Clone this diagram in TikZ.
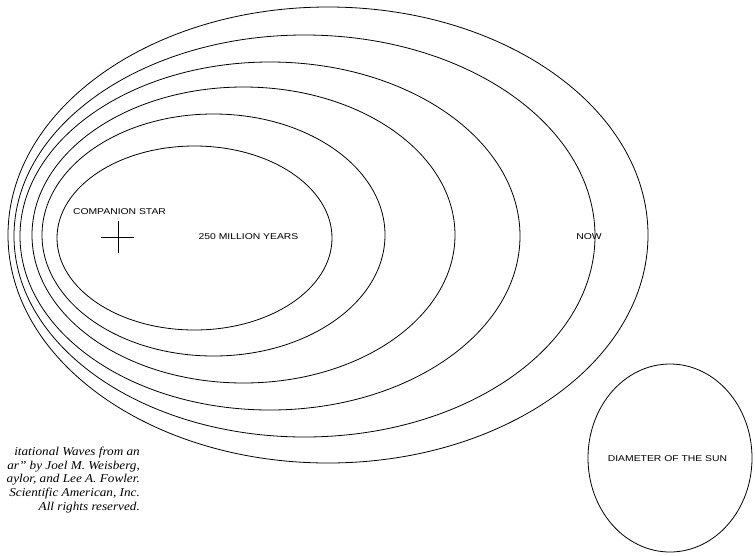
\documentclass[tikz,border=0pt]{standalone}
\usepackage{graphicx}
\usepackage{fontspec}
\setmainfont{Liberation Serif}
\newfontfamily\labelfont{Liberation Sans}
\newcommand{\widetext}[2]{\scalebox{#1}[1]{#2}}
\begin{document}
\begin{tikzpicture}[x=1pt,y=-1pt,
  orbit/.style={draw=black,line width=0.8pt},
  caplabel/.style={font=\labelfont\fontsize{8.5}{10}\selectfont,inner sep=0pt,text=black},
  credit/.style={font=\itshape\fontsize{12}{14}\selectfont,inner sep=0pt,anchor=east}]
\useasboundingbox (0,0) rectangle (755,555);
\begin{scope}
\clip (0,0) rectangle (755,555);
% orbits (successive ellipses)
\draw[orbit] (194.5,238) ellipse [x radius=137.5, y radius=92];
\draw[orbit] (213.5,235) ellipse [x radius=171.5, y radius=121];
\draw[orbit] (243.5,235) ellipse [x radius=211.5, y radius=148];
\draw[orbit] (270,236) ellipse [x radius=250, y radius=174];
\draw[orbit] (304.5,236) ellipse [x radius=290.5, y radius=201];
\draw[orbit] (328,235) ellipse [x radius=320, y radius=228];
% sun
\draw[orbit] (670,458) ellipse [x radius=82, y radius=94];
% companion star cross
\coordinate (star) at (118,237);
\draw[line width=0.8pt] (101,237) -- (134,237);
\draw[line width=0.8pt] (118,221) -- (118,253);
% labels
\node[caplabel] (comp) at (119.5,212) {\widetext{1.22}{COMPANION STAR}};
\node[caplabel] (years) at (248.5,237) {\widetext{1.22}{250 MILLION YEARS}};
\node[caplabel] (now) at (589,237) {\widetext{1.22}{NOW}};
\node[caplabel] (sun) at (667.5,459) {\widetext{1.22}{DIAMETER OF THE SUN}};
% credit
\node[credit] (c1) at (140,453) {\widetext{1.1}{itational Waves from an}};
\node[credit] (c2) at (140,467) {\widetext{1.1}{ar'' by Joel M. Weisberg,}};
\node[credit] (c3) at (140,480) {\widetext{1.1}{aylor, and Lee A. Fowler.}};
\node[credit] (c4) at (140,494) {\widetext{1.1}{Scientific American, Inc.}};
\node[credit] (c5) at (140,508) {\widetext{1.1}{All rights reserved.}};
\end{scope}
\end{tikzpicture}
\end{document}
